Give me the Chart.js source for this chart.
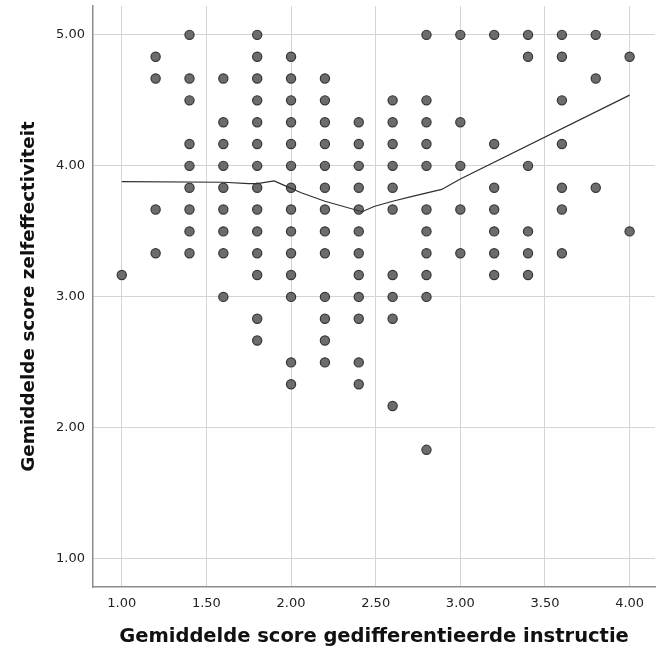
<!DOCTYPE html>
<html>
<head>
<meta charset="utf-8">
<script src="https://cdn.jsdelivr.net/npm/chart.js@4/dist/chart.umd.min.js"></script>
<style>
  html, body { margin: 0; padding: 0; background: #ffffff; }
  #wrap { width: 666px; height: 657px; }
</style>
</head>
<body>
<div id="wrap"><canvas id="c" width="666" height="657"></canvas></div>
<script>
// ---- Data ----
// x levels (Gemiddelde score gedifferentieerde instructie)
const xLevels = [1.0, 1.2, 1.4, 1.6, 1.8, 2.0, 2.2, 2.4, 2.6, 2.8, 3.0, 3.2, 3.4, 3.6, 3.8, 4.0];
// y values (Gemiddelde score zelfeffectiviteit) observed at each x level
const yAt1_0 = [3.167];
const yAt1_2 = [4.833, 4.667, 3.667, 3.333];
const yAt1_4 = [5.0, 4.667, 4.5, 4.167, 4.0, 3.833, 3.667, 3.5, 3.333];
const yAt1_6 = [4.667, 4.333, 4.167, 4.0, 3.833, 3.667, 3.5, 3.333, 3.0];
const yAt1_8 = [5.0, 4.833, 4.667, 4.5, 4.333, 4.167, 4.0, 3.833, 3.667, 3.5, 3.333, 3.167, 2.833, 2.667];
const yAt2_0 = [4.833, 4.667, 4.5, 4.333, 4.167, 4.0, 3.833, 3.667, 3.5, 3.333, 3.167, 3.0, 2.5, 2.333];
const yAt2_2 = [4.667, 4.5, 4.333, 4.167, 4.0, 3.833, 3.667, 3.5, 3.333, 3.0, 2.833, 2.667, 2.5];
const yAt2_4 = [4.333, 4.167, 4.0, 3.833, 3.667, 3.5, 3.333, 3.167, 3.0, 2.833, 2.5, 2.333];
const yAt2_6 = [4.5, 4.333, 4.167, 4.0, 3.833, 3.667, 3.167, 3.0, 2.833, 2.167];
const yAt2_8 = [5.0, 4.5, 4.333, 4.167, 4.0, 3.667, 3.5, 3.333, 3.167, 3.0, 1.833];
const yAt3_0 = [5.0, 4.333, 4.0, 3.667, 3.333];
const yAt3_2 = [5.0, 4.167, 3.833, 3.667, 3.5, 3.333, 3.167];
const yAt3_4 = [5.0, 4.833, 4.0, 3.5, 3.333, 3.167];
const yAt3_6 = [5.0, 4.833, 4.5, 4.167, 3.833, 3.667, 3.333];
const yAt3_8 = [5.0, 4.667, 3.833];
const yAt4_0 = [4.833, 3.5];
const yColumns = [yAt1_0, yAt1_2, yAt1_4, yAt1_6, yAt1_8, yAt2_0, yAt2_2, yAt2_4,
                  yAt2_6, yAt2_8, yAt3_0, yAt3_2, yAt3_4, yAt3_6, yAt3_8, yAt4_0];

// Loess fit line
const loessX = [1.0, 1.6, 1.75, 1.8, 1.9, 1.98, 2.06, 2.2, 2.42, 2.49, 2.6, 2.71, 2.89, 3.0, 4.0];
const loessY = [3.88, 3.875, 3.865, 3.865, 3.885, 3.84, 3.795, 3.73, 3.65, 3.69, 3.73, 3.765, 3.82, 3.9, 4.54];

// Tick labels
const xTickValues = [1.0, 1.5, 2.0, 2.5, 3.0, 3.5, 4.0];
const yTickValues = [1.0, 2.0, 3.0, 4.0, 5.0];

const xTitle = 'Gemiddelde score gedifferentieerde instructie';
const yTitle = 'Gemiddelde score zelfeffectiviteit';

// ---- Build datasets ----
const points = [];
xLevels.forEach((x, i) => yColumns[i].forEach(y => points.push({ x: x, y: y })));
const loessPts = loessX.map((x, i) => ({ x: x, y: loessY[i] }));

const tickFont = { family: 'DejaVu Sans', size: 13 };
const xTitleFont = { family: 'DejaVu Sans', size: 19.5, weight: 'bold', lineHeight: 1.2 };
const yTitleFont = { family: 'DejaVu Sans', size: 18.4, weight: 'bold', lineHeight: 1.2 };

new Chart(document.getElementById('c'), {
  type: 'scatter',
  data: {
    datasets: [
      {
        type: 'line',
        data: loessPts,
        borderColor: '#2f2f2f',
        borderWidth: 1.2,
        pointRadius: 0,
        fill: false,
        tension: 0,
        order: 0
      },
      {
        data: points,
        pointRadius: 4.6,
        pointBackgroundColor: '#6c6c6c',
        pointBorderColor: '#363636',
        pointBorderWidth: 1.2,
        order: 1
      }
    ]
  },
  options: {
    responsive: false,
    animation: false,
    devicePixelRatio: 1,
    layout: { padding: { top: 6, right: 11, left: 0, bottom: 0 } },
    plugins: { legend: { display: false }, tooltip: { enabled: false } },
    scales: {
      x: {
        type: 'linear',
        min: 0.83,
        max: 4.15,
        afterBuildTicks: s => { s.ticks = xTickValues.map(v => ({ value: v })); },
        afterFit: s => { s.height = 70; s.paddingLeft = 0; s.paddingRight = 0; },
        ticks: {
          font: tickFont,
          color: '#222',
          padding: 9,
          maxRotation: 0,
          callback: v => Number(v).toFixed(2)
        },
        grid: { color: '#d4d4d4', lineWidth: 1, drawTicks: false },
        border: { color: '#8c8c8c', width: 1.5 },
        title: {
          display: true,
          text: xTitle,
          font: xTitleFont,
          color: '#111',
          padding: { top: 0, bottom: 8 }
        }
      },
      y: {
        type: 'linear',
        min: 0.786,
        max: 5.22,
        afterBuildTicks: s => { s.ticks = yTickValues.map(v => ({ value: v })); },
        afterFit: s => { s.width = 93; s.paddingTop = 0; s.paddingBottom = 0; },
        ticks: {
          font: tickFont,
          color: '#222',
          padding: 8,
          callback: v => Number(v).toFixed(2)
        },
        grid: { color: '#d4d4d4', lineWidth: 1, drawTicks: false },
        border: { color: '#8c8c8c', width: 1.5 },
        title: {
          display: true,
          text: yTitle,
          font: yTitleFont,
          color: '#111',
          padding: { top: 18, bottom: 0 }
        }
      }
    }
  }
});
</script>
</body>
</html>
